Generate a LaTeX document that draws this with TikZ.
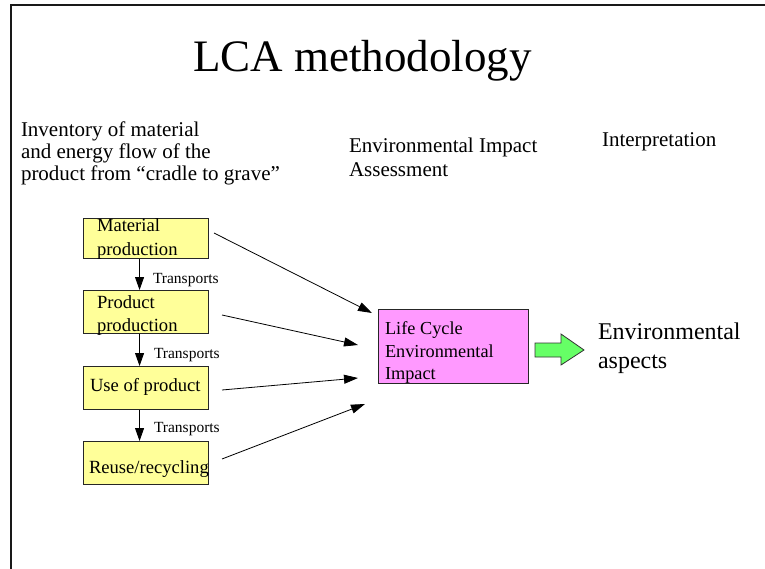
\documentclass[tikz,border=0pt]{standalone}
\usepackage{fontspec}
\setmainfont{Liberation Serif}
\usetikzlibrary{arrows.meta}
\definecolor{boxyellow}{RGB}{255,255,153}
\definecolor{boxpink}{RGB}{255,153,255}
\definecolor{arrowgreen}{RGB}{102,255,102}
\begin{document}
\begin{tikzpicture}[x=1pt,y=-1pt,
  stagebox/.style={draw=black!85,line width=1.1pt,fill=boxyellow,minimum width=125pt,minimum height=42pt,inner sep=0pt,anchor=north west},
  impactbox/.style={draw=black!85,line width=1.1pt,fill=boxpink,minimum width=150pt,minimum height=74pt,inner sep=0pt,anchor=north west},
  txt/.style={anchor=base west,inner sep=0pt,outer sep=0pt},
  bodytxt/.style={txt,font=\fontsize{21}{24}\selectfont},
  boxtxt/.style={txt,font=\fontsize{18.6}{22}\selectfont},
  smalltxt/.style={txt,font=\fontsize{15.5}{18}\selectfont},
  flow/.style={line width=0.9pt,-{Triangle[length=13pt,width=9pt]}},
  feed/.style={line width=0.8pt,-{Triangle[length=14pt,width=9pt]}}
]
\useasboundingbox (0,0) rectangle (765,569);
% frame
\draw[line width=2pt,black!90] (11,569) -- (11,5) -- (765,5);
% title
\node[txt,font=\fontsize{45}{52}\selectfont] (title) at (193,72) {LCA methodology};
% column headings
\node[bodytxt] (inv1) at (21,137) {Inventory of material};
\node[bodytxt] (inv2) at (21,159) {and energy flow of the};
\node[bodytxt] (inv3) at (21,181) {product from “cradle to grave”};
\node[bodytxt] (eia1) at (349,153) {Environmental Impact};
\node[bodytxt] (eia2) at (349,177) {Assessment};
\node[bodytxt] (interp) at (602,147) {Interpretation};
% stage boxes
\node[stagebox,minimum height=40pt] (mat) at (83,218) {};
\node[stagebox,minimum height=43pt] (prod) at (83,290) {};
\node[stagebox,minimum height=43pt] (use) at (83,366) {};
\node[stagebox,minimum height=43pt] (reuse) at (83,441) {};
\node[boxtxt] (matt1) at (97,232) {Material};
\node[boxtxt] (matt2) at (97,255) {production};
\node[boxtxt] (prodt1) at (97,308) {Product};
\node[boxtxt] (prodt2) at (97,331) {production};
\node[boxtxt] (uset) at (90,391) {Use of product};
\node[boxtxt] (reuset) at (89,473) {Reuse/recycling};
% transports
\draw[flow] ([xshift=-6.5pt]mat.south) -- ([xshift=-6.5pt]prod.north);
\draw[flow] ([xshift=-6.5pt]prod.south) -- ([xshift=-6.5pt]use.north);
\draw[flow] ([xshift=-6.5pt]use.south) -- ([xshift=-6.5pt]reuse.north);
\node[smalltxt] (tr1) at (153,283) {Transports};
\node[smalltxt] (tr2) at (154,358) {Transports};
\node[smalltxt] (tr3) at (154,432) {Transports};
% impact box
\node[impactbox] (lcei) at (378,309) {};
\node[boxtxt,font=\fontsize{18.3}{22}\selectfont] (lc1) at (385,334) {Life Cycle};
\node[boxtxt,font=\fontsize{18.3}{22}\selectfont] (lc2) at (385,357) {Environmental};
\node[boxtxt,font=\fontsize{18.3}{22}\selectfont] (lc3) at (385,379) {Impact};
% feed lines
\coordinate (s1) at (214,233); \coordinate (e1) at (372,313);
\coordinate (s2) at (222,315); \coordinate (e2) at (358,345);
\coordinate (s3) at (222,390); \coordinate (e3) at (358,378);
\coordinate (s4) at (222,459); \coordinate (e4) at (365,404);
\draw[feed] (s1) -- (e1);
\draw[feed] (s2) -- (e2);
\draw[feed] (s3) -- (e3);
\draw[feed] (s4) -- (e4);
% green block arrow
\draw[line width=0.8pt,draw=black!80,fill=arrowgreen,line join=miter]
  (535,343) -- (561,343) -- (561,334) -- (584,350) -- (561,365) -- (561,357) -- (535,357) -- cycle;
% result
\node[txt,font=\fontsize{24}{29}\selectfont] (asp1) at (598,339) {Environmental};
\node[txt,font=\fontsize{24}{29}\selectfont] (asp2) at (598,368) {aspects};
\end{tikzpicture}
\end{document}
